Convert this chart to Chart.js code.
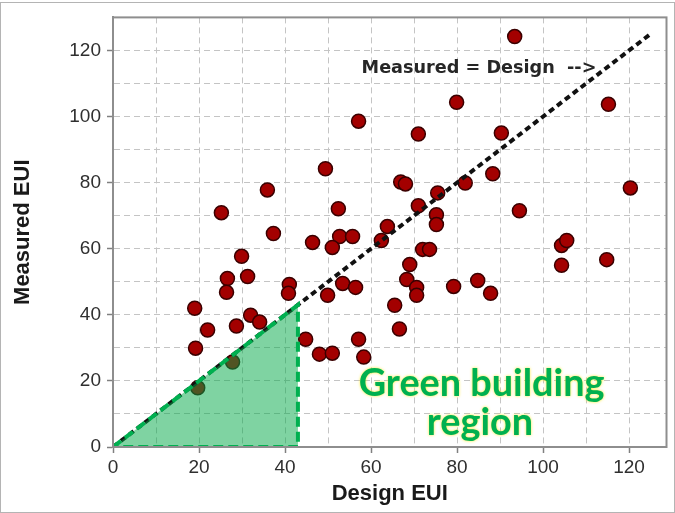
<!DOCTYPE html>
<html><head><meta charset="utf-8">
<script src="https://cdn.jsdelivr.net/npm/chart.js@4.4.0/dist/chart.umd.min.js"></script>
<style>html,body{margin:0;padding:0;background:#fff}#wrap{width:675px;height:513px;position:relative}</style>
</head><body><div id="wrap"><canvas id="c"></canvas></div>
<script>
// ---- data ----
const designEUI = [93.4,79.9,115.2,57.1,71.0,90.3,49.4,66.9,68.0,88.3,81.9,75.5,120.3,35.9,25.2,52.4,71.0,75.2,75.2,94.5,63.8,37.3,46.4,52.7,55.7,62.4,51.0,29.9,104.3,105.5,104.3,114.8,72.0,73.6,69.0,68.3,70.6,70.6,31.3,26.6,26.4,19.0,41.0,40.8,49.9,53.4,56.4,79.2,84.8,87.8,65.5,66.6,22.0,28.7,32.0,34.1,19.2,44.8,48.0,51.0,57.1,58.3,27.8,19.7];
const measuredEUI = [124.2,104.3,103.7,98.6,94.7,95.0,84.2,80.2,79.6,82.7,79.9,76.9,78.4,77.8,70.9,72.1,73.0,70.3,67.3,71.5,66.7,64.6,61.9,63.7,63.7,62.5,60.4,57.7,61.0,62.5,55.0,56.7,59.8,59.8,55.2,50.7,48.3,45.9,51.6,51.0,46.8,42.0,49.2,46.5,45.9,49.5,48.3,48.6,50.4,46.5,42.9,35.7,35.4,36.6,39.9,37.8,29.9,32.6,28.1,28.4,32.6,27.2,25.7,17.9];
const identityLine = [0, 125];
const greenRegionX = [0, 43, 43, 0];
const greenRegionY = [0, 43, 0, 0];
const xTickLabels = [0, 20, 40, 60, 80, 100, 120];
const yTickLabels = [0, 20, 40, 60, 80, 100, 120];
const gridValues = [0, 10, 20, 30, 40, 50, 60, 70, 80, 90, 100, 110, 120, 130];
const xTitle = 'Design EUI';
const yTitle = 'Measured EUI';
const lineLabel = 'Measured = Design  -->';
const regionLabel = ['Green building', 'region'];

const pts = designEUI.map((x, i) => ({x, y: measuredEUI[i]}));
const idPts = identityLine.map(v => ({x: v, y: v}));
const greenPts = greenRegionX.map((x, i) => ({x, y: greenRegionY[i]}));

function fitFont(ctx, text, weight, family, width) {
  ctx.font = weight + ' 40px ' + family;
  const w = ctx.measureText(text).width;
  return 40 * width / w;
}

const deco = {
  id: 'deco',
  beforeDraw(chart) {
    const c = chart.ctx;
    c.save();
    c.fillStyle = '#fff';
    c.fillRect(0, 0, chart.width, chart.height);
    c.strokeStyle = '#b4b4b4';
    c.lineWidth = 1;
    c.strokeRect(0.5, 2.5, chart.width - 1, chart.height - 3);
    c.restore();
  },
  afterDatasetsDraw(chart) {
    const c = chart.ctx, xs = chart.scales.x, ys = chart.scales.y;
    c.save();
    let fs = fitFont(c, lineLabel, 'bold', '"DejaVu Sans"', 235);
    c.font = 'bold ' + fs.toFixed(2) + 'px "DejaVu Sans"';
    c.fillStyle = '#262626';
    c.textAlign = 'left';
    c.textBaseline = 'alphabetic';
    c.fillText(lineLabel, xs.getPixelForValue(57.8), ys.getPixelForValue(113.3));
    fs = fitFont(c, regionLabel[0], 'bold', 'Lato', 246);
    c.font = 'bold ' + fs.toFixed(2) + 'px Lato';
    c.textAlign = 'center';
    c.fillStyle = '#00b050';
    c.shadowColor = 'rgba(255,230,0,0.85)';
    c.shadowBlur = 3;
    c.fillText(regionLabel[0], xs.getPixelForValue(85.7), ys.getPixelForValue(15.4));
    c.fillText(regionLabel[1], xs.getPixelForValue(85.3), ys.getPixelForValue(3.6));
    c.restore();
  },
  afterDraw(chart) {
    const c = chart.ctx, a = chart.chartArea;
    c.save();
    c.strokeStyle = '#8e8e8e';
    c.lineWidth = 2;
    c.strokeRect(a.left, a.top, a.right - a.left, a.bottom - a.top);
    c.restore();
  }
};

const isLabel = (labels, v) => labels.some(l => Math.abs(l - v) < 1e-6);

function axis(labels, max, isY) {
  return {
    type: 'linear',
    min: 0, max: max,
    afterBuildTicks: s => { s.ticks = gridValues.filter(v => v <= max + 1e-9).map(v => ({value: v})); },
    afterFit: s => { if (isY) s.width = 113; else s.height = 66; },
    ticks: {
      autoSkip: false, maxRotation: 0, padding: isY ? 6 : 3,
      color: '#2f2f2f',
      font: {family: '"Liberation Sans", Arial, sans-serif', size: 19},
      callback: v => isLabel(labels, v) ? String(Math.round(v)) : ''
    },
    grid: {
      color: ctx => (ctx.tick && ctx.tick.value === 0) ? 'rgba(0,0,0,0)' : '#c4c4c4',
      lineWidth: 1,
      tickLength: 6,
      tickColor: ctx => (ctx.tick && isLabel(labels, ctx.tick.value)) ? '#808080' : 'rgba(0,0,0,0)',
      tickWidth: 1.5,
      tickBorderDash: []
    },
    border: {display: true, color: '#8e8e8e', width: 2, dash: [6, 4]},
    title: {
      display: true,
      text: isY ? yTitle : xTitle,
      color: '#1a1a1a',
      font: {family: '"Liberation Sans", Arial, sans-serif', size: 22, weight: 'bold', lineHeight: 1.2},
      padding: isY ? {top: 10, bottom: 0} : {top: 0, bottom: 6}
    }
  };
}

new Chart(document.getElementById('c'), {
  type: 'scatter',
  data: {
    datasets: [
      {
        label: 'Green building region',
        data: greenPts,
        type: 'line',
        order: 0,
        showLine: true,
        pointRadius: 0,
        borderColor: '#00b050',
        borderWidth: 4,
        borderDash: [10, 5],
        backgroundColor: 'rgba(0,168,70,0.5)',
        fill: 'shape',
        tension: 0
      },
      {
        label: 'Measured = Design',
        data: idPts,
        type: 'line',
        order: 1,
        showLine: true,
        pointRadius: 0,
        borderColor: '#111',
        borderWidth: 4,
        borderDash: [6, 4],
        fill: false
      },
      {
        label: 'Buildings',
        data: pts,
        order: 2,
        pointRadius: 7,
        pointBackgroundColor: '#a30000',
        pointBorderColor: '#3a0000',
        pointBorderWidth: 1.5
      }
    ]
  },
  options: {
    responsive: true,
    maintainAspectRatio: false,
    animation: false,
    devicePixelRatio: 1,
    layout: {padding: {top: 16, right: 8, left: 0, bottom: 0}},
    plugins: {legend: {display: false}, tooltip: {enabled: false}},
    scales: {
      x: axis(xTickLabels, 128.7, false),
      y: axis(yTickLabels, 130, true)
    }
  },
  plugins: [deco]
});
</script>
</body></html>
